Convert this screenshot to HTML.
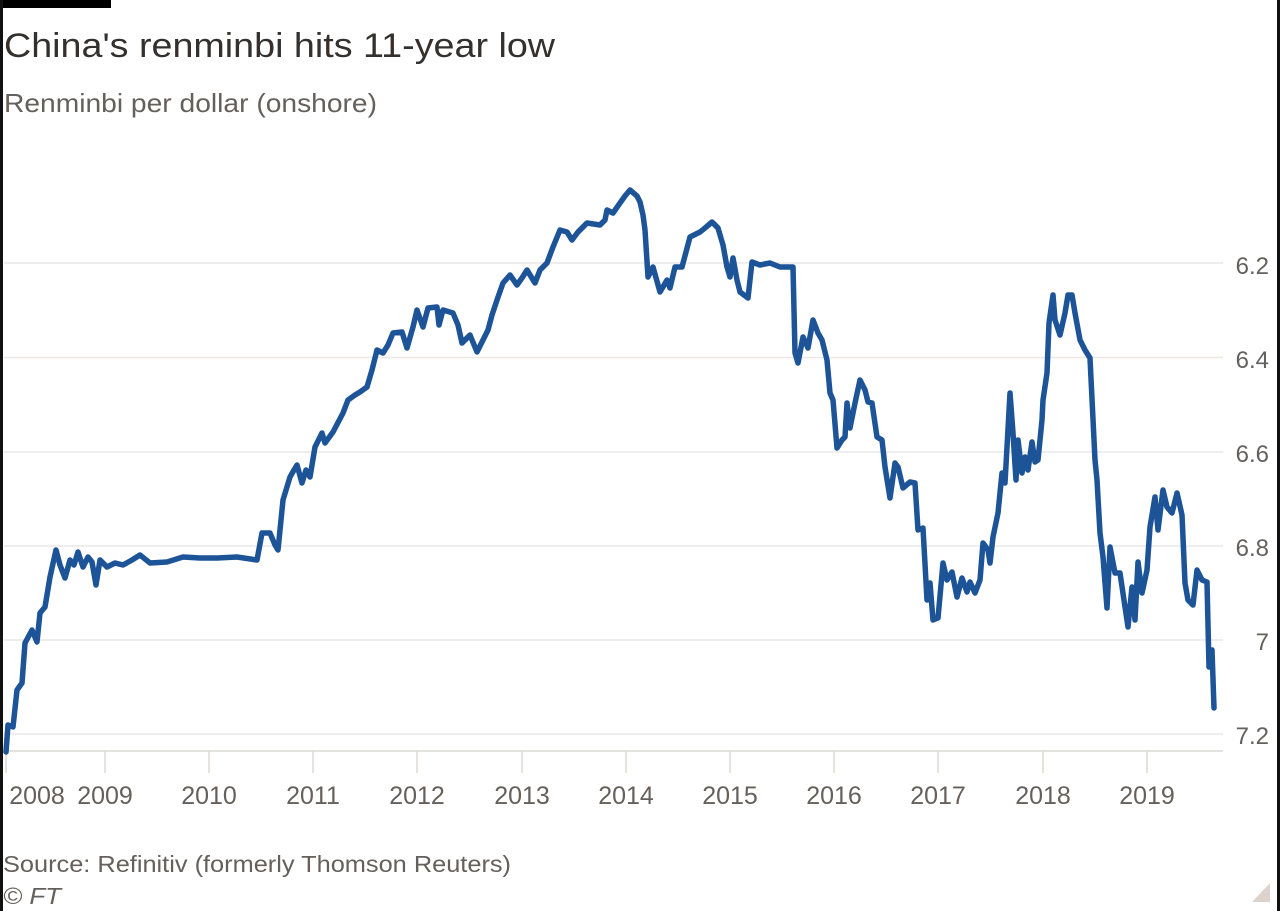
<!DOCTYPE html>
<html>
<head>
<meta charset="utf-8">
<style>
  html, body { margin: 0; padding: 0; background: #ffffff; }
  body { width: 1280px; height: 911px; overflow: hidden; }
  svg { display: block; }
</style>
</head>
<body>
<svg width="1280" height="911" viewBox="0 0 1280 911" xmlns="http://www.w3.org/2000/svg">
  <rect x="0" y="0" width="1280" height="911" fill="#ffffff"/>
  <!-- borders -->
  <rect x="0" y="0" width="111" height="8" fill="#000"/>
  <rect x="0" y="0" width="3" height="911" fill="#111"/>
  <rect x="1277" y="0" width="3" height="911" fill="#111"/>

  <!-- title -->
  <text x="4" y="57" font-family="Liberation Sans, sans-serif" font-size="34" fill="#33302e" textLength="551" lengthAdjust="spacingAndGlyphs">China's renminbi hits 11-year low</text>
  <text x="4" y="112" font-family="Liberation Sans, sans-serif" font-size="26" fill="#66605c" textLength="373" lengthAdjust="spacingAndGlyphs">Renminbi per dollar (onshore)</text>

  <!-- gridlines -->
  <g stroke="#ebe8e5" stroke-width="1.5">
    <line x1="4" y1="263" x2="1223" y2="263"/>
    <line x1="4" y1="357.5" x2="1223" y2="357.5"/>
    <line x1="4" y1="452" x2="1223" y2="452"/>
    <line x1="4" y1="546" x2="1223" y2="546"/>
    <line x1="4" y1="640" x2="1223" y2="640"/>
    <line x1="4" y1="734" x2="1223" y2="734"/>
  </g>
  <!-- axis -->
  <line x1="4" y1="751" x2="1223" y2="751" stroke="#dcd8d4" stroke-width="1.5"/>
  <g stroke="#dcd8d4" stroke-width="1.5">
    <line x1="6" y1="751" x2="6" y2="773"/>
    <line x1="105" y1="751" x2="105" y2="773"/>
    <line x1="209" y1="751" x2="209" y2="773"/>
    <line x1="313" y1="751" x2="313" y2="773"/>
    <line x1="417" y1="751" x2="417" y2="773"/>
    <line x1="522" y1="751" x2="522" y2="773"/>
    <line x1="626" y1="751" x2="626" y2="773"/>
    <line x1="730" y1="751" x2="730" y2="773"/>
    <line x1="834" y1="751" x2="834" y2="773"/>
    <line x1="938" y1="751" x2="938" y2="773"/>
    <line x1="1043" y1="751" x2="1043" y2="773"/>
    <line x1="1147" y1="751" x2="1147" y2="773"/>
  </g>

  <!-- y labels -->
  <g font-family="Liberation Sans, sans-serif" font-size="24" fill="#66605c" text-anchor="end">
    <text x="1269" y="274">6.2</text>
    <text x="1269" y="368">6.4</text>
    <text x="1269" y="462">6.6</text>
    <text x="1269" y="556">6.8</text>
    <text x="1269" y="650">7</text>
    <text x="1269" y="744">7.2</text>
  </g>

  <!-- x labels -->
  <g font-family="Liberation Sans, sans-serif" font-size="25" fill="#66605c" text-anchor="middle">
    <text x="37" y="804">2008</text>
    <text x="105" y="804">2009</text>
    <text x="209" y="804">2010</text>
    <text x="313" y="804">2011</text>
    <text x="417" y="804">2012</text>
    <text x="522" y="804">2013</text>
    <text x="626" y="804">2014</text>
    <text x="730" y="804">2015</text>
    <text x="834" y="804">2016</text>
    <text x="938" y="804">2017</text>
    <text x="1043" y="804">2018</text>
    <text x="1147" y="804">2019</text>
  </g>

  <!-- series -->
  <polyline fill="none" stroke="#1d5498" stroke-width="5.5" stroke-linejoin="round" stroke-linecap="round"
    points="6,752 8,725 13,727 17,690 22,683 25,643 32,630 37,642 40,613 45,607 50,577 56,550 60,565 65,578 70,560 74,565 78,552 83,567 88,557 92,562 96,585 100,560 107,567 115,563 123,565 132,560 140,555 150,563 167,562 183,557 200,558 217,558 237,557 257,560 262,533 270,533 275,545 278,550 283,500 290,477 294,470 297,465 302,483 306,470 310,477 315,447 322,433 325,443 333,432 343,413 348,400 355,395 360,392 367,387 372,370 377,350 383,353 388,345 393,333 402,332 407,348 413,327 417,310 423,327 428,308 437,307 439,325 443,310 453,313 458,325 462,343 470,335 477,352 482,342 488,330 492,315 497,300 503,283 510,275 517,285 522,278 527,270 535,283 540,270 547,263 553,247 560,230 567,232 572,240 578,232 587,223 600,225 605,220 607,210 613,213 620,203 625,196 630,190 637,196 640,202 643,215 645,230 648,277 653,267 660,292 667,280 670,288 675,267 682,267 690,237 700,232 705,228 712,222 718,228 723,245 727,267 730,277 733,258 737,280 740,292 748,298 752,262 760,265 770,263 780,267 793,267 795,353 798,363 803,337 808,348 813,320 818,333 822,340 827,360 830,393 833,400 837,448 842,440 845,437 847,403 850,428 855,403 860,380 865,390 868,402 872,403 877,437 882,440 885,467 890,498 895,463 898,467 903,488 910,482 915,483 918,530 923,528 927,600 930,583 933,620 938,618 943,563 947,580 952,572 957,597 962,578 967,592 970,582 975,593 980,580 983,543 988,550 990,563 993,537 998,513 1002,473 1005,483 1010,393 1013,433 1016,480 1018,440 1022,473 1025,457 1028,470 1032,442 1035,462 1038,460 1042,420 1043,400 1047,373 1049,323 1053,295 1055,320 1060,335 1065,313 1068,295 1072,295 1075,313 1080,340 1085,350 1090,358 1095,460 1097,480 1100,533 1103,557 1107,608 1110,547 1115,573 1120,573 1125,607 1128,627 1132,587 1135,620 1138,562 1142,593 1147,570 1150,527 1155,497 1158,530 1163,490 1167,507 1172,513 1177,493 1182,515 1185,583 1188,600 1193,605 1197,570 1202,580 1207,582 1209,667 1212,650 1214,708"/>

  <!-- footer -->
  <text x="3" y="872" font-family="Liberation Sans, sans-serif" font-size="23" fill="#66605c" textLength="508" lengthAdjust="spacingAndGlyphs">Source: Refinitiv (formerly Thomson Reuters)</text>
  <text x="3" y="904" font-family="Liberation Sans, sans-serif" font-size="23" font-style="italic" fill="#66605c" textLength="58" lengthAdjust="spacingAndGlyphs">© FT</text>

  <!-- corner triangle -->
  <polygon points="1270,883 1270,902 1252,902" fill="#dcd4cc"/>
</svg>
</body>
</html>
